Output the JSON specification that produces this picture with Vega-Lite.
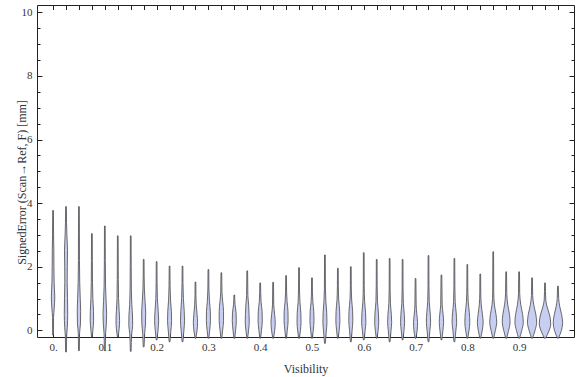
{
  "$schema": "https://vega.github.io/schema/vega-lite/v6.json",
  "width": 537,
  "height": 332,
  "autosize": {"type": "none"},
  "padding": {"left": 37, "top": 5, "right": 2, "bottom": 40},
  "config": {"view": {"stroke": null}, "font": "Liberation Serif"},
  "data": {"values": [
    {"v":0,"e":-0.15,"w":0.0008},{"v":0,"e":0.4,"w":0.001},{"v":0,"e":0.7,"w":0.0023},{"v":0,"e":1.05,"w":0.0033},{"v":0,"e":1.5,"w":0.0021},{"v":0,"e":2.0,"w":0.0017},{"v":0,"e":2.5,"w":0.0015},{"v":0,"e":3.0,"w":0.001},{"v":0,"e":3.77,"w":0.0007},
    {"v":0.025,"e":-0.68,"w":0.0008},{"v":0.025,"e":-0.2,"w":0.0012},{"v":0.025,"e":0.1,"w":0.0025},{"v":0.025,"e":0.5,"w":0.0033},{"v":0.025,"e":1.0,"w":0.0029},{"v":0.025,"e":1.5,"w":0.0023},{"v":0.025,"e":2.0,"w":0.0025},{"v":0.025,"e":2.5,"w":0.0029},{"v":0.025,"e":3.0,"w":0.0017},{"v":0.025,"e":3.4,"w":0.001},{"v":0.025,"e":3.89,"w":0.0007},
    {"v":0.05,"e":-0.64,"w":0.0008},{"v":0.05,"e":-0.1,"w":0.0012},{"v":0.05,"e":0.2,"w":0.0029},{"v":0.05,"e":0.6,"w":0.0033},{"v":0.05,"e":1.0,"w":0.0025},{"v":0.05,"e":1.5,"w":0.0015},{"v":0.05,"e":2.2,"w":0.001},{"v":0.05,"e":3.0,"w":0.0009},{"v":0.05,"e":3.89,"w":0.0007},
    {"v":0.075,"e":-0.2,"w":0.0008},{"v":0.075,"e":0.0,"w":0.0019},{"v":0.075,"e":0.3,"w":0.0033},{"v":0.075,"e":0.6,"w":0.0031},{"v":0.075,"e":1.0,"w":0.0019},{"v":0.075,"e":1.5,"w":0.0012},{"v":0.075,"e":2.2,"w":0.0009},{"v":0.075,"e":3.04,"w":0.0007},
    {"v":0.1,"e":-0.64,"w":0.0008},{"v":0.1,"e":-0.1,"w":0.0015},{"v":0.1,"e":0.2,"w":0.0029},{"v":0.1,"e":0.5,"w":0.0035},{"v":0.1,"e":0.9,"w":0.0025},{"v":0.1,"e":1.4,"w":0.0014},{"v":0.1,"e":2.2,"w":0.0009},{"v":0.1,"e":3.28,"w":0.0007},
    {"v":0.125,"e":-0.2,"w":0.0008},{"v":0.125,"e":0.05,"w":0.0027},{"v":0.125,"e":0.3,"w":0.0035},{"v":0.125,"e":0.6,"w":0.0027},{"v":0.125,"e":1.0,"w":0.0015},{"v":0.125,"e":1.6,"w":0.001},{"v":0.125,"e":2.97,"w":0.0007},
    {"v":0.15,"e":-0.66,"w":0.0008},{"v":0.15,"e":-0.1,"w":0.0019},{"v":0.15,"e":0.15,"w":0.0037},{"v":0.15,"e":0.45,"w":0.0035},{"v":0.15,"e":0.8,"w":0.0021},{"v":0.15,"e":1.3,"w":0.0012},{"v":0.15,"e":2.0,"w":0.0009},{"v":0.15,"e":2.97,"w":0.0007},
    {"v":0.175,"e":-0.52,"w":0.0008},{"v":0.175,"e":-0.1,"w":0.0019},{"v":0.175,"e":0.2,"w":0.0035},{"v":0.175,"e":0.55,"w":0.0039},{"v":0.175,"e":0.9,"w":0.0027},{"v":0.175,"e":1.3,"w":0.0014},{"v":0.175,"e":1.7,"w":0.0009},{"v":0.175,"e":2.23,"w":0.0007},
    {"v":0.2,"e":-0.3,"w":0.0008},{"v":0.2,"e":0.0,"w":0.0027},{"v":0.2,"e":0.3,"w":0.0039},{"v":0.2,"e":0.6,"w":0.0031},{"v":0.2,"e":1.0,"w":0.0015},{"v":0.2,"e":1.5,"w":0.0009},{"v":0.2,"e":2.16,"w":0.0007},
    {"v":0.225,"e":-0.36,"w":0.0008},{"v":0.225,"e":-0.05,"w":0.0023},{"v":0.225,"e":0.3,"w":0.0039},{"v":0.225,"e":0.6,"w":0.0035},{"v":0.225,"e":0.95,"w":0.0019},{"v":0.225,"e":1.4,"w":0.001},{"v":0.225,"e":2.02,"w":0.0007},
    {"v":0.25,"e":-0.36,"w":0.0008},{"v":0.25,"e":0.0,"w":0.0027},{"v":0.25,"e":0.3,"w":0.0039},{"v":0.25,"e":0.6,"w":0.0033},{"v":0.25,"e":1.0,"w":0.0017},{"v":0.25,"e":1.5,"w":0.0009},{"v":0.25,"e":2.02,"w":0.0007},
    {"v":0.275,"e":-0.25,"w":0.0008},{"v":0.275,"e":0.0,"w":0.0031},{"v":0.275,"e":0.25,"w":0.0041},{"v":0.275,"e":0.5,"w":0.0031},{"v":0.275,"e":0.8,"w":0.0015},{"v":0.275,"e":1.1,"w":0.0009},{"v":0.275,"e":1.52,"w":0.0007},
    {"v":0.3,"e":-0.25,"w":0.0008},{"v":0.3,"e":0.0,"w":0.0025},{"v":0.3,"e":0.3,"w":0.0039},{"v":0.3,"e":0.6,"w":0.0037},{"v":0.3,"e":0.9,"w":0.0021},{"v":0.3,"e":1.3,"w":0.001},{"v":0.3,"e":1.91,"w":0.0007},
    {"v":0.325,"e":-0.25,"w":0.0008},{"v":0.325,"e":0.0,"w":0.0025},{"v":0.325,"e":0.3,"w":0.0042},{"v":0.325,"e":0.6,"w":0.0042},{"v":0.325,"e":0.9,"w":0.0027},{"v":0.325,"e":1.2,"w":0.0012},{"v":0.325,"e":1.81,"w":0.0007},
    {"v":0.35,"e":-0.25,"w":0.0008},{"v":0.35,"e":0.0,"w":0.0025},{"v":0.35,"e":0.3,"w":0.0039},{"v":0.35,"e":0.55,"w":0.0035},{"v":0.35,"e":0.8,"w":0.0015},{"v":0.35,"e":1.11,"w":0.0007},
    {"v":0.375,"e":-0.25,"w":0.0008},{"v":0.375,"e":0.0,"w":0.0025},{"v":0.375,"e":0.25,"w":0.0039},{"v":0.375,"e":0.5,"w":0.0035},{"v":0.375,"e":0.8,"w":0.0027},{"v":0.375,"e":1.1,"w":0.0012},{"v":0.375,"e":1.87,"w":0.0007},
    {"v":0.4,"e":-0.25,"w":0.0008},{"v":0.4,"e":0.0,"w":0.0025},{"v":0.4,"e":0.3,"w":0.0041},{"v":0.4,"e":0.6,"w":0.0037},{"v":0.4,"e":0.9,"w":0.0017},{"v":0.4,"e":1.49,"w":0.0007},
    {"v":0.425,"e":-0.25,"w":0.0008},{"v":0.425,"e":0.0,"w":0.0031},{"v":0.425,"e":0.25,"w":0.0041},{"v":0.425,"e":0.5,"w":0.0029},{"v":0.425,"e":0.8,"w":0.0012},{"v":0.425,"e":1.51,"w":0.0007},
    {"v":0.45,"e":-0.25,"w":0.0008},{"v":0.45,"e":0.0,"w":0.0023},{"v":0.45,"e":0.3,"w":0.0039},{"v":0.45,"e":0.6,"w":0.0037},{"v":0.45,"e":0.9,"w":0.0019},{"v":0.45,"e":1.2,"w":0.001},{"v":0.45,"e":1.72,"w":0.0007},
    {"v":0.475,"e":-0.25,"w":0.0008},{"v":0.475,"e":0.0,"w":0.0027},{"v":0.475,"e":0.25,"w":0.0039},{"v":0.475,"e":0.55,"w":0.0035},{"v":0.475,"e":0.9,"w":0.0017},{"v":0.475,"e":1.3,"w":0.0009},{"v":0.475,"e":1.97,"w":0.0007},
    {"v":0.5,"e":-0.25,"w":0.0008},{"v":0.5,"e":0.0,"w":0.0025},{"v":0.5,"e":0.3,"w":0.0039},{"v":0.5,"e":0.6,"w":0.0035},{"v":0.5,"e":0.9,"w":0.0017},{"v":0.5,"e":1.2,"w":0.0009},{"v":0.5,"e":1.65,"w":0.0007},
    {"v":0.525,"e":-0.41,"w":0.0008},{"v":0.525,"e":-0.05,"w":0.0025},{"v":0.525,"e":0.25,"w":0.0039},{"v":0.525,"e":0.55,"w":0.0035},{"v":0.525,"e":0.9,"w":0.0019},{"v":0.525,"e":1.3,"w":0.001},{"v":0.525,"e":2.37,"w":0.0007},
    {"v":0.55,"e":-0.25,"w":0.0008},{"v":0.55,"e":0.0,"w":0.0025},{"v":0.55,"e":0.3,"w":0.0039},{"v":0.55,"e":0.6,"w":0.0035},{"v":0.55,"e":0.95,"w":0.0017},{"v":0.55,"e":1.4,"w":0.0009},{"v":0.55,"e":1.95,"w":0.0007},
    {"v":0.575,"e":-0.36,"w":0.0008},{"v":0.575,"e":0.0,"w":0.0025},{"v":0.575,"e":0.3,"w":0.0039},{"v":0.575,"e":0.6,"w":0.0035},{"v":0.575,"e":0.95,"w":0.0017},{"v":0.575,"e":1.4,"w":0.0009},{"v":0.575,"e":2.0,"w":0.0007},
    {"v":0.6,"e":-0.3,"w":0.0008},{"v":0.6,"e":0.0,"w":0.0027},{"v":0.6,"e":0.25,"w":0.0041},{"v":0.6,"e":0.55,"w":0.0035},{"v":0.6,"e":0.9,"w":0.0017},{"v":0.6,"e":1.4,"w":0.0009},{"v":0.6,"e":2.44,"w":0.0007},
    {"v":0.625,"e":-0.25,"w":0.0008},{"v":0.625,"e":0.0,"w":0.0027},{"v":0.625,"e":0.25,"w":0.0039},{"v":0.625,"e":0.55,"w":0.0033},{"v":0.625,"e":0.9,"w":0.0015},{"v":0.625,"e":1.4,"w":0.0009},{"v":0.625,"e":2.23,"w":0.0007},
    {"v":0.65,"e":-0.36,"w":0.0008},{"v":0.65,"e":0.0,"w":0.0027},{"v":0.65,"e":0.25,"w":0.0039},{"v":0.65,"e":0.5,"w":0.0033},{"v":0.65,"e":0.85,"w":0.0015},{"v":0.65,"e":1.3,"w":0.0009},{"v":0.65,"e":2.26,"w":0.0007},
    {"v":0.675,"e":-0.3,"w":0.0008},{"v":0.675,"e":0.0,"w":0.0027},{"v":0.675,"e":0.25,"w":0.0039},{"v":0.675,"e":0.5,"w":0.0033},{"v":0.675,"e":0.85,"w":0.0015},{"v":0.675,"e":1.3,"w":0.0009},{"v":0.675,"e":2.23,"w":0.0007},
    {"v":0.7,"e":-0.25,"w":0.0008},{"v":0.7,"e":0.0,"w":0.0031},{"v":0.7,"e":0.25,"w":0.0039},{"v":0.7,"e":0.5,"w":0.0025},{"v":0.7,"e":0.8,"w":0.0012},{"v":0.7,"e":1.63,"w":0.0007},
    {"v":0.725,"e":-0.36,"w":0.0008},{"v":0.725,"e":0.0,"w":0.0027},{"v":0.725,"e":0.25,"w":0.0041},{"v":0.725,"e":0.55,"w":0.0033},{"v":0.725,"e":0.9,"w":0.0015},{"v":0.725,"e":1.4,"w":0.0009},{"v":0.725,"e":2.35,"w":0.0007},
    {"v":0.75,"e":-0.3,"w":0.0008},{"v":0.75,"e":0.0,"w":0.0029},{"v":0.75,"e":0.25,"w":0.0042},{"v":0.75,"e":0.5,"w":0.0033},{"v":0.75,"e":0.8,"w":0.0014},{"v":0.75,"e":1.74,"w":0.0007},
    {"v":0.775,"e":-0.36,"w":0.0008},{"v":0.775,"e":0.0,"w":0.0029},{"v":0.775,"e":0.25,"w":0.0044},{"v":0.775,"e":0.55,"w":0.0035},{"v":0.775,"e":0.9,"w":0.0015},{"v":0.775,"e":1.4,"w":0.0009},{"v":0.775,"e":2.26,"w":0.0007},
    {"v":0.8,"e":-0.25,"w":0.0008},{"v":0.8,"e":0.0,"w":0.0033},{"v":0.8,"e":0.25,"w":0.0048},{"v":0.8,"e":0.55,"w":0.0039},{"v":0.8,"e":0.9,"w":0.0017},{"v":0.8,"e":1.4,"w":0.0009},{"v":0.8,"e":2.07,"w":0.0007},
    {"v":0.825,"e":-0.25,"w":0.0008},{"v":0.825,"e":0.0,"w":0.0039},{"v":0.825,"e":0.25,"w":0.0056},{"v":0.825,"e":0.5,"w":0.0042},{"v":0.825,"e":0.8,"w":0.0019},{"v":0.825,"e":1.2,"w":0.0009},{"v":0.825,"e":1.77,"w":0.0007},
    {"v":0.85,"e":-0.25,"w":0.0008},{"v":0.85,"e":0.0,"w":0.0042},{"v":0.85,"e":0.25,"w":0.0068},{"v":0.85,"e":0.5,"w":0.0054},{"v":0.85,"e":0.8,"w":0.0023},{"v":0.85,"e":1.2,"w":0.001},{"v":0.85,"e":2.47,"w":0.0007},
    {"v":0.875,"e":-0.25,"w":0.0008},{"v":0.875,"e":0.0,"w":0.0048},{"v":0.875,"e":0.25,"w":0.0075},{"v":0.875,"e":0.5,"w":0.0064},{"v":0.875,"e":0.8,"w":0.0031},{"v":0.875,"e":1.15,"w":0.0012},{"v":0.875,"e":1.84,"w":0.0007},
    {"v":0.9,"e":-0.25,"w":0.0008},{"v":0.9,"e":0.0,"w":0.0052},{"v":0.9,"e":0.25,"w":0.0081},{"v":0.9,"e":0.5,"w":0.0068},{"v":0.9,"e":0.8,"w":0.0033},{"v":0.9,"e":1.15,"w":0.0012},{"v":0.9,"e":1.84,"w":0.0007},
    {"v":0.925,"e":-0.25,"w":0.0008},{"v":0.925,"e":0.0,"w":0.0058},{"v":0.925,"e":0.25,"w":0.0089},{"v":0.925,"e":0.5,"w":0.0073},{"v":0.925,"e":0.8,"w":0.0033},{"v":0.925,"e":1.1,"w":0.0012},{"v":0.925,"e":1.65,"w":0.0007},
    {"v":0.95,"e":-0.25,"w":0.0008},{"v":0.95,"e":-0.05,"w":0.0068},{"v":0.95,"e":0.2,"w":0.011},{"v":0.95,"e":0.45,"w":0.0093},{"v":0.95,"e":0.7,"w":0.0048},{"v":0.95,"e":0.95,"w":0.0015},{"v":0.95,"e":1.49,"w":0.0007},
    {"v":0.975,"e":-0.25,"w":0.0008},{"v":0.975,"e":0.0,"w":0.0068},{"v":0.975,"e":0.25,"w":0.0091},{"v":0.975,"e":0.5,"w":0.007},{"v":0.975,"e":0.75,"w":0.0035},{"v":0.975,"e":1.0,"w":0.0014},{"v":0.975,"e":1.39,"w":0.0007}
  ]},
  "transform": [
    {"calculate": "datum.v - datum.w", "as": "lo"},
    {"calculate": "datum.v + datum.w", "as": "hi"}
  ],
  "layer": [
    {
      "mark": {"type": "area", "orient": "horizontal", "interpolate": "monotone", "fill": "#c8cef2", "fillOpacity": 1, "stroke": "#4a4a4a", "strokeWidth": 0.9, "strokeOpacity": 0.9, "clip": false},
      "encoding": {
        "y": {"field": "e", "type": "quantitative", "scale": {"domain": [-0.21, 10.23], "nice": false, "zero": false},
          "axis": {"orient": "left", "title": "SignedError (Scan\u2192Ref, F) [mm]", "values": [0,0.5,1,1.5,2,2.5,3,3.5,4,4.5,5,5.5,6,6.5,7,7.5,8,8.5,9,9.5,10],
            "labelExpr": "datum.value % 2 === 0 ? datum.value : ''", "grid": false,
            "tickSize": {"condition": {"test": "datum.value % 2 === 0", "value": -5}, "value": -3},
            "labelPadding": 10, "labelFont": "Liberation Serif", "labelFontSize": 11, "labelColor": "#333",
            "titleFont": "Liberation Serif", "titleFontSize": 12, "titleFontWeight": "normal", "titleColor": "#333",
            "titleX": -12, "titleY": 177, "titleBaseline": "alphabetic",
            "domainColor": "#222", "tickColor": "#222"}},
        "x": {"field": "lo", "type": "quantitative", "scale": {"domain": [-0.031, 1.006], "nice": false, "zero": false},
          "axis": {"orient": "bottom", "title": "Visibility", "values": [0,0.025,0.05,0.075,0.1,0.125,0.15,0.175,0.2,0.225,0.25,0.275,0.3,0.325,0.35,0.375,0.4,0.425,0.45,0.475,0.5,0.525,0.55,0.575,0.6,0.625,0.65,0.675,0.7,0.725,0.75,0.775,0.8,0.825,0.85,0.875,0.9,0.925,0.95,0.975],
            "labelExpr": "round(datum.value * 40) % 4 === 0 ? (datum.value === 0 ? '0.' : format(datum.value, '.1f')) : ''", "grid": false,
            "tickSize": -4, "labelPadding": 8, "labelFont": "Liberation Serif", "labelFontSize": 11, "labelColor": "#333", "labelOverlap": false,
            "titleFont": "Liberation Serif", "titleFontSize": 12, "titleFontWeight": "normal", "titleColor": "#333",
            "titleY": 35, "titleBaseline": "alphabetic",
            "domainColor": "#222", "tickColor": "#222"}},
        "x2": {"field": "hi"},
        "detail": {"field": "v", "type": "nominal"}
      }
    },
    {
      "mark": {"type": "area", "orient": "horizontal", "opacity": 0, "clip": false},
      "encoding": {
        "y": {"field": "e", "type": "quantitative",
          "axis": {"orient": "right", "title": null, "labels": false, "grid": false, "values": [0,0.5,1,1.5,2,2.5,3,3.5,4,4.5,5,5.5,6,6.5,7,7.5,8,8.5,9,9.5,10],
            "tickSize": {"condition": {"test": "datum.value % 2 === 0", "value": -5}, "value": -3},
            "domainColor": "#222", "tickColor": "#222"}},
        "x": {"field": "lo", "type": "quantitative",
          "axis": {"orient": "top", "title": null, "labels": false, "grid": false, "values": [0,0.025,0.05,0.075,0.1,0.125,0.15,0.175,0.2,0.225,0.25,0.275,0.3,0.325,0.35,0.375,0.4,0.425,0.45,0.475,0.5,0.525,0.55,0.575,0.6,0.625,0.65,0.675,0.7,0.725,0.75,0.775,0.8,0.825,0.85,0.875,0.9,0.925,0.95,0.975],
            "tickSize": -4.5, "domainColor": "#222", "tickColor": "#222"}},
        "x2": {"field": "hi"},
        "detail": {"field": "v", "type": "nominal"}
      }
    }
  ],
  "resolve": {"axis": {"x": "independent", "y": "independent"}}
}
